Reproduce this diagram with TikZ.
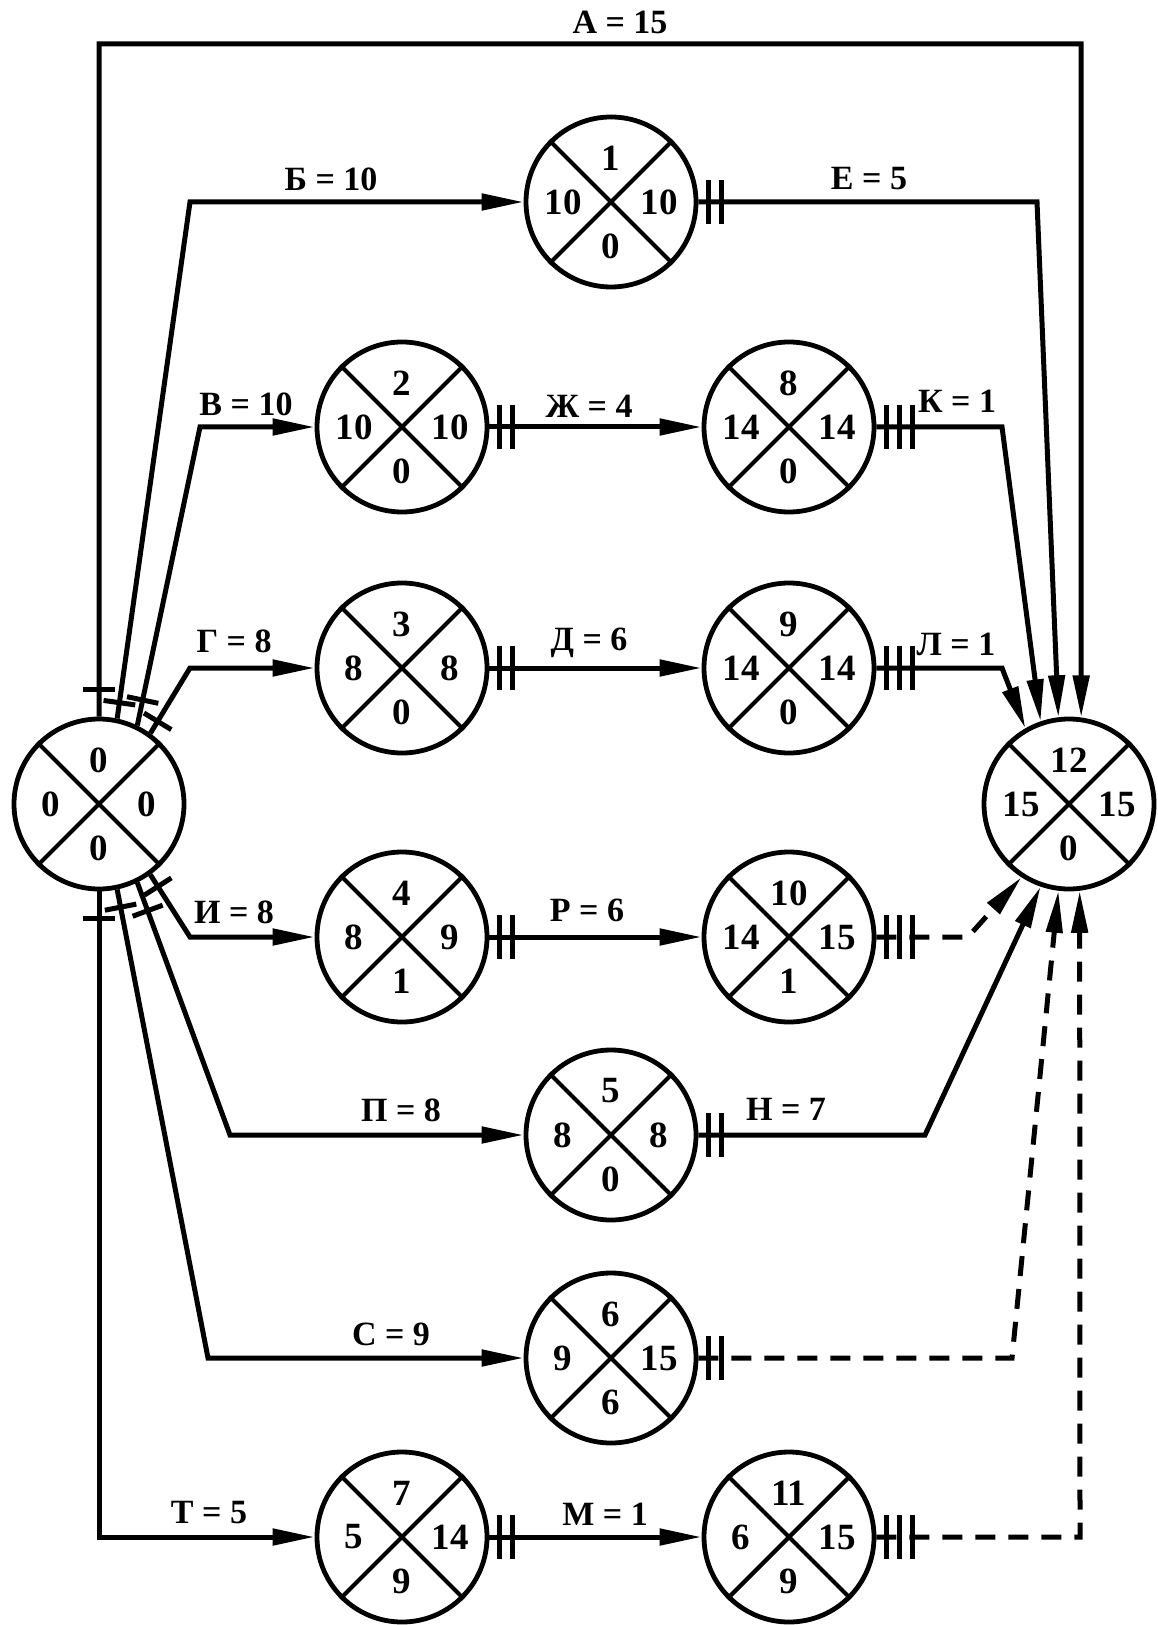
\documentclass[tikz,border=0pt]{standalone}
\usepackage{fontspec}
\setmainfont{Liberation Serif}
\usetikzlibrary{arrows.meta,decorations.markings}

\tikzset{
  ev/.style={circle,draw,line width=2.4pt,minimum size=85pt,inner sep=0pt},
  num/.style={font=\bfseries\fontsize{18.5}{18.5}\selectfont,inner sep=0pt},
  lbl/.style={font=\bfseries\fontsize{17}{17}\selectfont,inner sep=0pt},
  work/.style={line width=2.5pt,->},
  dummy/.style={work,dash pattern=on 10pt off 6.5pt},
  barline/.style={solid,arrows=-,line width=2.5pt},
  crossbar/.style={postaction={decorate,decoration={markings,
      mark=at position #1 with {\draw[barline] (0,-8pt) -- (0,8pt);}}}},
  twobars/.style={postaction={decorate,decoration={markings,
      mark=at position 5pt with {\draw[barline] (0,-11pt) -- (0,11pt);},
      mark=at position 11.5pt with {\draw[barline] (0,-11pt) -- (0,11pt);}}}},
  threebars/.style={postaction={decorate,decoration={markings,
      mark=at position 5pt with {\draw[barline] (0,-11pt) -- (0,11pt);},
      mark=at position 11.5pt with {\draw[barline] (0,-11pt) -- (0,11pt);},
      mark=at position 18pt with {\draw[barline] (0,-11pt) -- (0,11pt);}}}}
}

% event: name, position, number, early, late, reserve
\newcommand{\netevent}[6]{%
  \node[ev] (#1) at #2 {};
  \draw[line width=2.1pt] (#1.45) -- (#1.225) (#1.135) -- (#1.315);
  \path (#1) ++(0,-44) node[num] (#1t) {#3}
        (#1) ++(-48,0) node[num] (#1l) {#4}
        (#1) ++(48,0) node[num] (#1r) {#5}
        (#1) ++(0,44) node[num] (#1b) {#6};
}

\begin{document}
\begin{tikzpicture}[x=0.5pt,y=-0.5pt,>={Triangle[length=21pt,width=8pt]}]
    \useasboundingbox (0,0) rectangle (1157,1625);

    % Events
    \netevent{N0}{(99,804)}{0}{0}{0}{0}
    \netevent{N1}{(611,202)}{1}{10}{10}{0}
    \netevent{N2}{(402,427)}{2}{10}{10}{0}
    \netevent{N8}{(789,427)}{8}{14}{14}{0}
    \netevent{N3}{(402,668)}{3}{8}{8}{0}
    \netevent{N9}{(789,668)}{9}{14}{14}{0}
    \netevent{NF}{(1069,804)}{12}{15}{15}{0}
    \netevent{N4}{(402,937)}{4}{8}{9}{1}
    \netevent{N10}{(789,937)}{10}{14}{15}{1}
    \netevent{N5}{(611,1135)}{5}{8}{8}{0}
    \netevent{N6}{(611,1358)}{6}{9}{15}{6}
    \netevent{N7}{(402,1537)}{7}{5}{14}{9}
    \netevent{N11}{(789,1537)}{11}{6}{15}{9}

    % Bends
    \coordinate (cA) at (1081,44);
    \coordinate (cB) at (190,202);
    \coordinate (cV) at (200,427);
    \coordinate (cG) at (190,668);
    \coordinate (cI) at (190,937);
    \coordinate (cP) at (230,1135);
    \coordinate (cS) at (208,1358);
    \coordinate (cE) at (1037,202);
    \coordinate (cK) at (1002,427);
    \coordinate (cL) at (1002,668);
    \coordinate (cR) at (968,937);
    \coordinate (cN) at (925,1135);
    \coordinate (cC) at (1012,1358);
    \coordinate (cM) at (1080,1537);

    % Works out of the first event
    \draw[work,crossbar=13.5pt] (N0.north) |- (cA) -- (NF.82);
    \draw[work,crossbar=8pt] (N0.78) -- (cB) -- (N1.west);
    \draw[work,crossbar=13pt] (N0.64) -- (cV) -- (N2.west);
    \draw[work,crossbar=7pt] (N0.54) -- (cG) -- (N3.west);
    \draw[work,crossbar=7pt] (N0.-54) -- (cI) -- (N4.west);
    \draw[work,crossbar=15pt] (N0.-64) -- (cP) -- (N5.west);
    \draw[work,crossbar=9pt] (N0.-78) -- (cS) -- (N6.west);
    \draw[work,crossbar=13.5pt] (N0.south) |- (N7.west);

    % Middle works
    \draw[work,twobars] (N2.east) -- (N8.west);
    \draw[work,twobars] (N3.east) -- (N9.west);
    \draw[work,twobars] (N4.east) -- (N10.west);
    \draw[work,twobars] (N7.east) -- (N11.west);

    % Works into the last event
    \draw[work,twobars] (N1.east) -- (cE) -- (NF.97);
    \draw[work,threebars] (N8.east) -- (cK) -- (NF.109);
    \draw[work,threebars] (N9.east) -- (cL) -- (NF.120);
    \draw[dummy,threebars] (N10.east) -- (cR) -- (NF.-123);
    \draw[work,twobars] (N5.east) -- (cN) -- (NF.-109);
    \draw[dummy,twobars] (N6.east) -- (cC) -- (NF.-97);
    \draw[dummy,threebars] (N11.east) -- (cM) -- (NF.-83);

    % Labels
    \node[lbl] (lA) at (620,22) {А = 15};
    \node[lbl] (lB) at (331,179) {Б = 10};
    \node[lbl] (lE) at (869,179) {Е = 5};
    \node[lbl] (lV) at (246,404) {В = 10};
    \node[lbl] (lZh) at (589,406) {Ж = 4};
    \node[lbl] (lK) at (957,401) {К = 1};
    \node[lbl] (lG) at (234,641) {Г = 8};
    \node[lbl] (lD) at (589,643) {Д = 6};
    \node[lbl] (lL) at (956,644) {Л = 1};
    \node[lbl] (lI) at (234,912) {И = 8};
    \node[lbl] (lR) at (587,910) {Р = 6};
    \node[lbl] (lP) at (401,1110) {П = 8};
    \node[lbl] (lN) at (786,1109) {Н = 7};
    \node[lbl] (lS) at (391,1334) {С = 9};
    \node[lbl] (lT) at (209,1513) {Т = 5};
    \node[lbl] (lM) at (605,1514) {М = 1};
\end{tikzpicture}
\end{document}
